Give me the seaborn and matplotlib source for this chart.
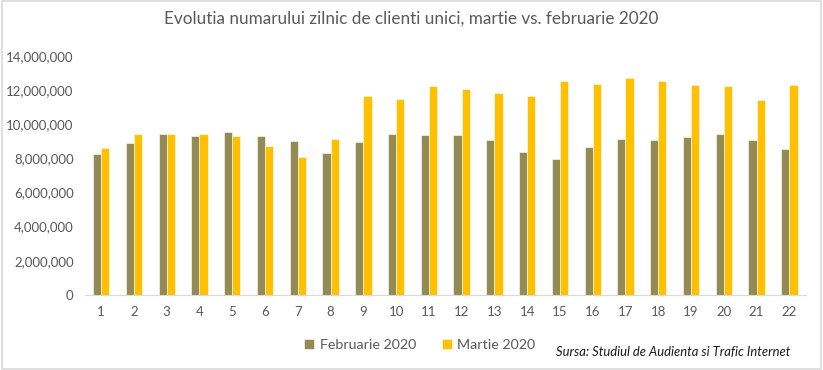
import numpy as np
import pandas as pd
import matplotlib
matplotlib.use("Agg")
import matplotlib.pyplot as plt
import matplotlib.ticker as mticker
from matplotlib.patches import Rectangle
import seaborn as sns

days = list(range(1, 23))
feb_2020 = [8.28, 8.92, 9.41, 9.31, 9.55, 9.31, 9.04, 8.32, 8.98, 9.41,
            9.35, 9.35, 9.08, 8.38, 7.97, 8.65, 9.14, 9.08, 9.24, 9.41, 9.08, 8.53]
mar_2020 = [8.61, 9.41, 9.41, 9.41, 9.31, 8.71, 8.08, 9.14, 11.66, 11.48,
            12.22, 12.05, 11.81, 11.66, 12.52, 12.38, 12.73, 12.52, 12.32, 12.22, 11.42, 12.28]
series_names = ["Februarie 2020", "Martie 2020"]
colors = ["#948A54", "#FFC000"]

df = pd.DataFrame({
    "zi": days * 2,
    "clienti": np.array(feb_2020 + mar_2020) * 1e6,
    "luna": [series_names[0]] * len(days) + [series_names[1]] * len(days),
})

sns.set_style("white")
plt.rcParams["font.family"] = ["Lato", "DejaVu Sans"]

fig = plt.figure(figsize=(8.23, 3.70), dpi=100)
ax = fig.add_axes([0.103, 0.203, 0.876, 0.646])

sns.barplot(data=df, x="zi", y="clienti", hue="luna", palette=colors,
            width=0.5, saturation=1, edgecolor="white", linewidth=0.4, ax=ax)

ax.set_ylim(0, 14e6)
ax.set_yticks(np.arange(0, 14e6 + 1, 2e6))
ax.yaxis.set_major_formatter(mticker.FuncFormatter(lambda v, p: f"{int(v):,}"))
ax.set_xlabel("")
ax.set_ylabel("")
ax.tick_params(axis="both", length=0, labelsize=9.5, colors="#595959")
ax.tick_params(axis="y", pad=8)
ax.tick_params(axis="x", pad=8)
for s in ["top", "right", "left"]:
    ax.spines[s].set_visible(False)
ax.spines["bottom"].set_color("#D9D9D9")
ax.set_xlim(-0.5, len(days) - 0.5)

handles, labels = ax.get_legend_handles_labels()
ax.get_legend().remove()
fig.legend(handles, labels, loc="center", bbox_to_anchor=(0.51, 0.067), ncol=2,
           frameon=False, fontsize=10.3, handlelength=0.7, handleheight=0.7,
           handletextpad=0.4, columnspacing=1.8, labelcolor="#595959")

fig.text(0.5, 0.95, "Evolutia numarului zilnic de clienti unici, martie vs. februarie 2020",
         ha="center", va="center", fontsize=12.3, color="#595959")
fig.text(0.96, 0.048, "Sursa: Studiul de Audienta si Trafic Internet",
         ha="right", va="center", fontsize=9.4, style="italic", color="#1a1a1a")

fig.patches.append(Rectangle((0.002, 0.004), 0.995, 0.992, transform=fig.transFigure,
                             fill=False, edgecolor="#D9D9D9", linewidth=1.2))

fig.savefig("out.png", dpi=100, facecolor="white")
